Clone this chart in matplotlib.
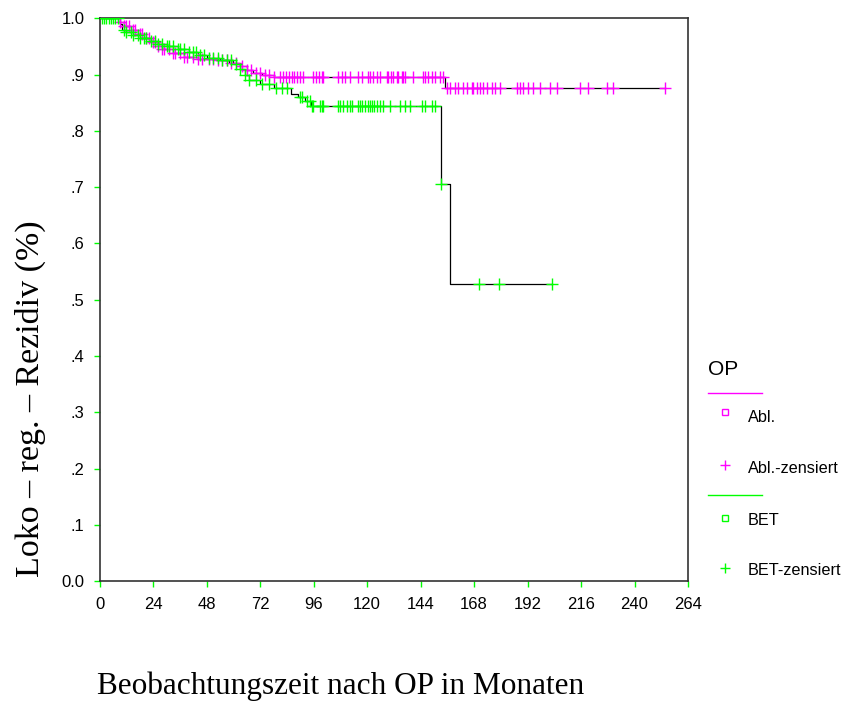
#!/usr/bin/env python3
"""Kaplan-Meier plot: Loko-reg. Rezidiv nach OP (Abl. vs. BET)."""

import numpy as np
import matplotlib
matplotlib.use("Agg")
import matplotlib.pyplot as plt
from matplotlib.lines import Line2D

# Abl. (Ablatio) step curve: event times (months) and survival after each step
abl_t = [0, 8, 11, 14, 17, 20, 23, 26, 28, 33, 38, 44, 52, 58, 63, 66, 69, 73, 78, 155]
abl_s = [1.0, 0.993, 0.986, 0.98, 0.972, 0.965, 0.957, 0.95, 0.945, 0.938, 0.932,
         0.928, 0.925, 0.92, 0.915, 0.908, 0.903, 0.9, 0.895, 0.877]
abl_cens = [9, 11, 12, 13, 15, 16, 18, 19, 21, 22, 24, 25, 26, 28, 29, 31, 33, 34, 36,
            38, 39, 42, 44, 46, 49, 51, 53, 55, 57, 59, 61, 64, 66, 68, 70, 72, 74, 76,
            78, 80.8, 82.2, 83.5, 84.9, 86.2, 87.1, 88.5, 89.8, 91.2, 95.6, 97.0, 98.3,
            99.7, 100.1, 106.8, 108.6, 110.0, 112.3, 115.8, 117.6, 120.3, 121.2, 122.6,
            124.4, 125.7, 128.9, 129.3, 130.7, 131.6, 133.4, 133.8, 135.6, 136.1, 137,
            140.6, 145, 146, 147.3, 149.1, 150.4, 152.7, 154, 155.8, 157.2, 159.4, 160.8,
            163, 164.8, 167, 167.5, 169.3, 170.6, 172, 173.8, 176, 177.4, 179.6, 187.2,
            188.6, 189.9, 192.2, 194.4, 197.6, 202, 205.2, 215.5, 219, 227.7, 230.4, 253.7]

# BET step curve
bet_t = [0, 9, 10, 12, 15, 18, 22, 26, 30, 35, 40, 44, 48, 54, 60, 63, 65, 67, 72, 78,
         86, 89, 92, 95, 153, 157]
bet_s = [1.0, 0.99, 0.98, 0.975, 0.97, 0.965, 0.96, 0.955, 0.95, 0.945, 0.94, 0.935,
         0.93, 0.925, 0.918, 0.91, 0.9, 0.89, 0.883, 0.876, 0.866, 0.86, 0.853, 0.845,
         0.705, 0.528]
bet_cens = [1, 2, 3, 4, 5, 6, 7, 8, 11, 12, 14, 15, 17, 18, 20, 21, 23, 25, 26, 28, 30,
            31, 33, 35, 36, 38, 40, 42, 43, 45, 47, 49, 51, 53, 55, 57, 59, 61, 63, 65,
            67, 70, 73, 76, 79, 81.7, 84, 89.8, 91, 93, 94.3, 95.2, 95.6, 98.8, 99.7,
            100.1, 106.9, 107.8, 109.1, 110.9, 112.3, 113.2, 115.9, 116.7, 117.6, 119,
            120.3, 121.2, 122.1, 123, 124.4, 125.7, 127.1, 130.2, 134.7, 137, 139.2,
            144.6, 146, 149.1, 150.4, 153, 170, 179, 203]

x_ticks = list(range(0, 265, 24))
y_ticks = [0.0, 0.1, 0.2, 0.3, 0.4, 0.5, 0.6, 0.7, 0.8, 0.9, 1.0]
y_labels = ["0.0", ".1", ".2", ".3", ".4", ".5", ".6", ".7", ".8", ".9", "1.0"]

MAGENTA = "#ff00ff"
GREEN = "#00ff00"


def surv_at(times, surv, t):
    idx = np.searchsorted(times, t, side="right") - 1
    return np.asarray(surv)[idx]


def draw_group(ax, times, surv, cens, color):
    end = max(cens)
    xs = list(times) + [end]
    ys = list(surv) + [surv[-1]]
    ax.step(xs, ys, where="post", color="black", lw=0.9, zorder=2)
    cy = surv_at(np.asarray(times), surv, np.asarray(cens))
    ax.plot(cens, cy, ls="none", marker="+", ms=8, mew=1.0, color=color, zorder=3)


fig = plt.figure(figsize=(8.52, 7.02), dpi=100)
ax = fig.add_axes([0.117, 0.172, 0.6905, 0.802])

draw_group(ax, abl_t, abl_s, abl_cens, MAGENTA)
draw_group(ax, bet_t, bet_s, bet_cens, GREEN)

ax.set_xlim(0, 264)
ax.set_ylim(0, 1.0)
ax.set_xticks(x_ticks)
ax.set_yticks(y_ticks)
ax.set_yticklabels(y_labels)
ax.tick_params(direction="out", length=4, width=1, color=GREEN,
               labelsize=12, pad=7)
for lbl in ax.get_xticklabels() + ax.get_yticklabels():
    lbl.set_fontfamily("Liberation Sans")
for sp in ax.spines.values():
    sp.set_color("#333333")
    sp.set_linewidth(1.2)

serif = "Liberation Serif"
fig.text(0.114, 0.022, "Beobachtungszeit nach OP in Monaten", family=serif,
         fontsize=22.5, ha="left", va="center")
fig.text(0.036, 0.432, "Loko \u2013 reg. \u2013 Rezidiv (%)", family=serif,
         fontsize=24.5, rotation=90, ha="center", va="center")

# legend drawn in figure coordinates
sans = "Liberation Sans"
fig.text(0.831, 0.473, "OP", family=sans, fontsize=15, ha="left", va="center")
fig.add_artist(Line2D([0.831, 0.894], [0.440, 0.440], color=MAGENTA, lw=1))
fig.add_artist(Line2D([0.851], [0.413], marker="s", ms=5, mfc="none", mew=1,
                      color=MAGENTA, ls="none"))
fig.text(0.878, 0.405, "Abl.", family=sans, fontsize=11.7, ha="left", va="center")
fig.add_artist(Line2D([0.851], [0.338], marker="+", ms=7, mew=1,
                      color=MAGENTA, ls="none"))
fig.text(0.878, 0.333, "Abl.-zensiert", family=sans, fontsize=11.7, ha="left", va="center")
fig.add_artist(Line2D([0.831, 0.894], [0.295, 0.295], color=GREEN, lw=1))
fig.add_artist(Line2D([0.851], [0.262], marker="s", ms=5, mfc="none", mew=1,
                      color=GREEN, ls="none"))
fig.text(0.878, 0.258, "BET", family=sans, fontsize=11.7, ha="left", va="center")
fig.add_artist(Line2D([0.851], [0.191], marker="+", ms=7, mew=1,
                      color=GREEN, ls="none"))
fig.text(0.878, 0.187, "BET-zensiert", family=sans, fontsize=11.7, ha="left", va="center")

fig.savefig("out.png", dpi=100)
